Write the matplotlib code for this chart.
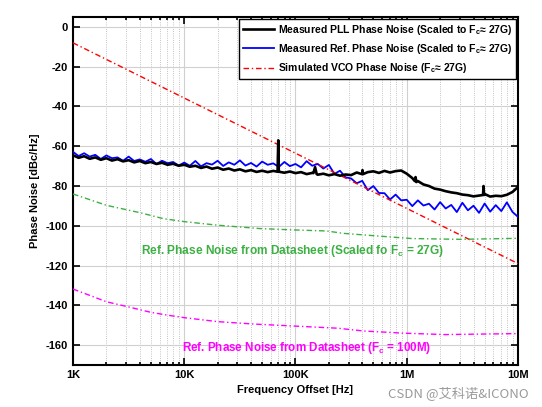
import numpy as np
import matplotlib
matplotlib.use("Agg")
import matplotlib.pyplot as plt
from matplotlib.ticker import LogLocator, NullFormatter

plt.rcParams['font.family'] = ['Liberation Sans', 'DejaVu Sans']
plt.rcParams['font.weight'] = 'bold'
plt.rcParams['axes.unicode_minus'] = False
plt.rcParams['mathtext.fontset'] = 'custom'
plt.rcParams['mathtext.rm'] = 'Liberation Sans:bold'
plt.rcParams['mathtext.bf'] = 'Liberation Sans:bold'

# measurement grid, 1K .. 10M, 20 points per decade
freq = np.logspace(3, 7, 81)

pll_noise = [
    -64.5, -65.8, -65.0, -66.3, -65.6, -66.8, -66.0, -67.2, -66.5, -67.6,
    -67.0, -68.1, -67.4, -68.5, -67.9, -68.9, -68.3, -69.3, -68.8, -69.8,
    -69.3, -70.3, -69.8, -70.9, -70.2, -71.3, -70.7, -71.8, -71.2, -72.2,
    -71.6, -72.6, -72.0, -72.9, -72.3, -73.0, -72.4, -72.8, -73.3, -72.7,
    -73.5, -73.0, -74.0, -73.4, -74.3, -73.8, -74.6, -74.0, -74.8, -74.2,
    -74.5, -73.2, -74.0, -73.0, -72.6, -73.4, -72.4, -73.2, -72.5, -72.2,
    -73.8, -76.0, -77.5, -79.2, -80.0, -81.3, -81.8, -82.6, -83.2, -83.6,
    -84.3, -84.6, -85.2, -84.8, -84.0, -85.3, -84.9, -85.1, -84.4, -83.0,
    -80.5]
# narrow spurs on the PLL trace
spur_freq = [69000, 70000, 71000, 145000, 150000, 155000, 395000, 400000, 405000,
             1180000, 1200000, 1220000, 4850000, 4900000, 4950000]
spur_noise = [-72.8, -57.0, -72.8, -73.5, -70.5, -74.0, -74.0, -72.0, -74.0,
              -77.5, -75.5, -78.0, -84.5, -80.0, -84.5]

ref_noise = [
    -62.8, -64.9, -63.5, -65.2, -64.3, -66.4, -64.6, -66.0, -65.6, -67.3,
    -65.2, -67.4, -66.6, -67.8, -66.4, -68.9, -67.3, -68.5, -67.9, -69.7,
    -68.2, -69.8, -67.4, -70.1, -68.5, -69.2, -67.3, -69.9, -68.1, -69.3,
    -67.1, -69.7, -68.4, -70.2, -67.7, -69.3, -68.6, -70.4, -67.9, -70.0,
    -68.9, -70.6, -67.5, -69.8, -68.9, -71.2, -69.4, -73.9, -72.3, -75.6,
    -76.2, -78.6, -77.4, -82.1, -80.0, -83.5, -83.6, -86.8, -84.3, -87.2,
    -86.9, -90.1, -87.2, -89.8, -88.9, -91.8, -88.1, -91.3, -89.5, -93.1,
    -88.4, -92.2, -89.9, -93.5, -88.8, -92.9, -89.6, -92.6, -88.2, -93.0,
    -95.5]

vco_freq = [1e3, 1e7]
vco_noise = [-8.0, -119.0]

ds27_freq = [1e3, 2e3, 4e3, 6.5e3, 1e4, 2e4, 4.8e4, 1e5, 1.9e5, 2.7e5, 5.4e5, 1.1e6, 3e6, 1e7]
ds27_noise = [-84.0, -89.7, -93.4, -96.4, -97.9, -99.7, -101.4, -102.1, -102.6, -103.8,
              -105.1, -106.4, -106.8, -106.3]

ds100_freq = [1e3, 2e3, 3e3, 5e3, 7e3, 1e4, 2e4, 4.2e4, 9.6e4, 2.4e5, 4.1e5, 9.4e5, 2.2e6, 1e7]
ds100_noise = [-131.8, -138.2, -140.5, -143.5, -144.9, -146.2, -148.2, -149.4, -150.4,
               -151.5, -152.9, -154.0, -154.7, -154.2]

pll_f = np.concatenate([freq, spur_freq])
pll_v = np.concatenate([pll_noise, spur_noise])
order = np.argsort(pll_f)
pll_f, pll_v = pll_f[order], pll_v[order]

dashdot = (0, (4, 2, 1, 2))

fig = plt.figure(figsize=(5.42, 4.07), dpi=100)
ax = fig.add_axes([0.1347, 0.1032, 0.8210, 0.8550])

ax.semilogx(pll_f, pll_v, color='black', lw=1.9, zorder=4,
            label=r'Measured PLL Phase Noise (Scaled to F$_\mathbf{c}$≈ 27G)')
ax.semilogx(freq, ref_noise, color='#0000ff', lw=1.3, zorder=3,
            label=r'Measured Ref. Phase Noise (Scaled to F$_\mathbf{c}$≈ 27G)')
ax.semilogx(vco_freq, vco_noise, color='#ff0000', lw=1.0, ls=dashdot, zorder=3,
            label=r'Simulated VCO Phase Noise (F$_\mathbf{c}$≈ 27G)')
ax.semilogx(ds27_freq, ds27_noise, color='#3cb043', lw=1.0, ls=dashdot, zorder=3)
ax.semilogx(ds100_freq, ds100_noise, color='#ff00ff', lw=1.0, ls=dashdot, zorder=3)

ax.text(9.4e4, -112.8, r'Ref. Phase Noise from Datasheet (Scaled fo F$_\mathbf{c}$ = 27G)',
        color='#3cb043', fontsize=8.6, fontweight='bold', ha='center', va='center')
ax.text(1.26e5, -161.4, r'Ref. Phase Noise from Datasheet (F$_\mathbf{c}$ = 100M)',
        color='#ff00ff', fontsize=8.4, fontweight='bold', ha='center', va='center')

ax.set_xlim(1e3, 1e7)
ax.set_ylim(-170, 5)
ax.set_xticks([1e3, 1e4, 1e5, 1e6, 1e7])
ax.set_xticklabels(['1K', '10K', '100K', '1M', '10M'])
ax.xaxis.set_minor_locator(LogLocator(base=10, subs=np.arange(2, 10)))
ax.xaxis.set_minor_formatter(NullFormatter())
ax.set_yticks(np.arange(-160, 1, 20))

ax.grid(True, which='major', color='#d0d0d0', lw=0.8, ls='-')
ax.grid(True, which='minor', axis='x', color='#b0b0b0', lw=0.6, ls=':')
ax.tick_params(which='both', direction='in', top=True, right=True, labelsize=8, width=1.2)
ax.tick_params(which='major', length=5)
ax.tick_params(which='minor', length=2.5)
for s in ax.spines.values():
    s.set_linewidth(1.5)

ax.set_xlabel('Frequency Offset [Hz]', fontsize=8, fontweight='bold')
ax.set_ylabel('Phase Noise [dBc/Hz]', fontsize=8, fontweight='bold')

leg = ax.legend(loc='upper right', fontsize=7.5, frameon=True, fancybox=False,
                edgecolor='black', framealpha=1, borderaxespad=0.15,
                handlelength=3.0, handletextpad=0.3, labelspacing=0.5)
leg.get_frame().set_linewidth(1.0)
for t in leg.get_texts():
    t.set_fontweight('bold')

fig.text(0.975, 0.035, 'CSDN @艾科诺&ICONO', color='#9a9a9a', fontsize=9.5, ha='right',
         va='center', family=['Noto Sans CJK SC', 'DejaVu Sans'], fontweight='normal')

fig.savefig('out.png', dpi=100)
